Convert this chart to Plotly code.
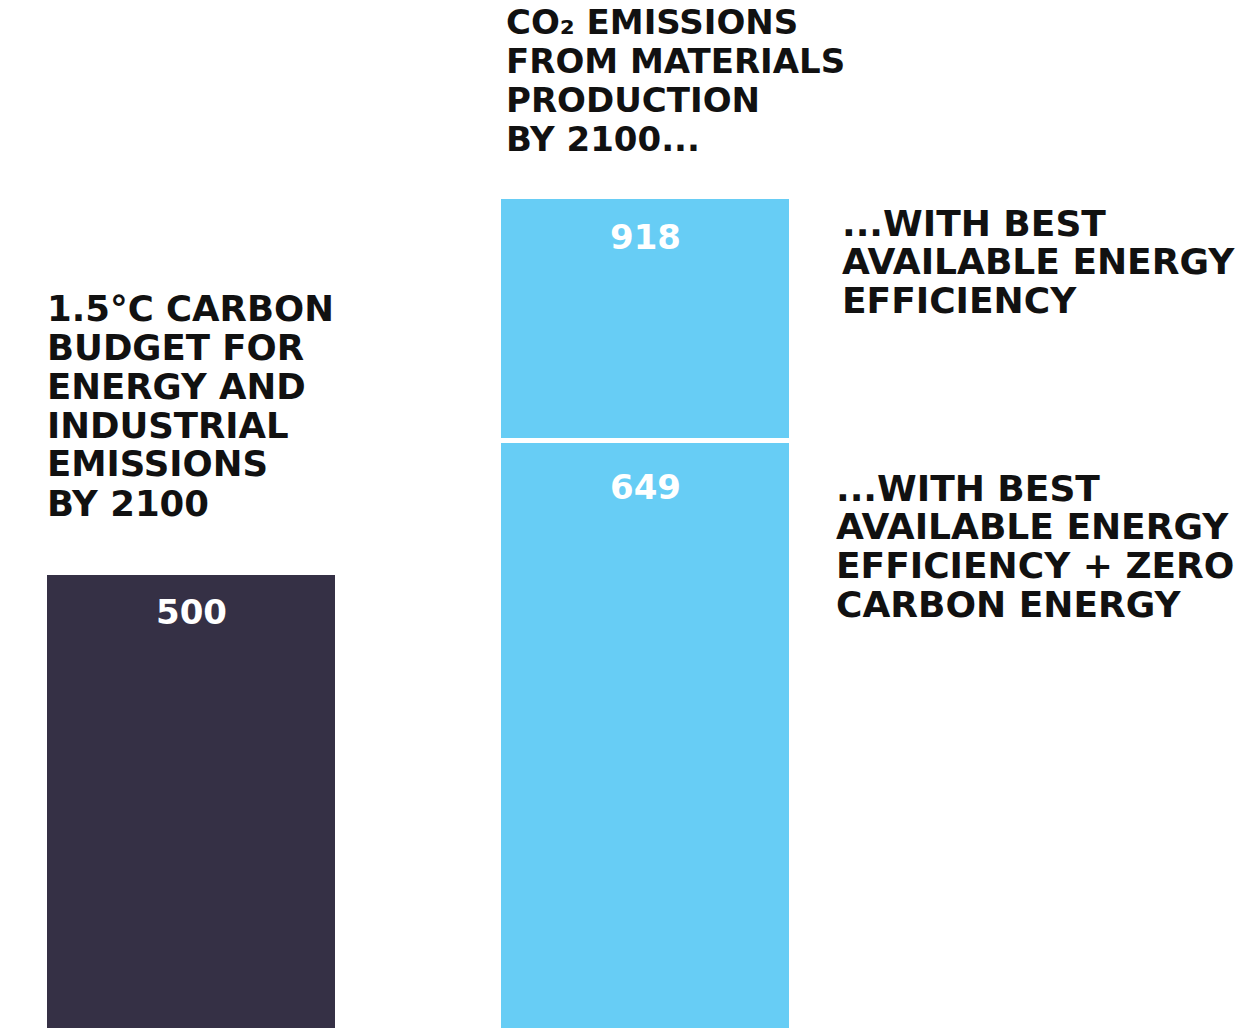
import plotly.graph_objects as go

# ---- data ----
categories = ["1.5°C budget", "Materials production"]
budget_values = [500]                  # 1.5°C carbon budget
bat_zero_carbon = [649]                # best available efficiency + zero carbon energy
bat_only = [918]                       # best available energy efficiency
label_values = [500, 649, 918]

title_lines = ["CO₂ EMISSIONS", "FROM MATERIALS", "PRODUCTION", "BY 2100..."]
left_lines = ["1.5°C CARBON", "BUDGET FOR", "ENERGY AND", "INDUSTRIAL", "EMISSIONS", "BY 2100"]
upper_lines = ["...WITH BEST", "AVAILABLE ENERGY", "EFFICIENCY"]
lower_lines = ["...WITH BEST", "AVAILABLE ENERGY", "EFFICIENCY + ZERO", "CARBON ENERGY"]

DARK = "#353045"
BLUE = "#67CDF5"
W, H = 1243, 1028
FONT = "DejaVu Sans"
SCALE = 0.9055  # px per unit

upper_segment = [t - b for t, b in zip(bat_only, bat_zero_carbon)]

fig = go.Figure()
fig.add_trace(go.Bar(x=[categories[0]], y=budget_values, marker_color=DARK,
                     marker_line_width=0, width=288 / 454, hoverinfo="skip"))
fig.add_trace(go.Bar(x=[categories[1]], y=bat_zero_carbon, marker_color=BLUE,
                     marker_line_width=0, width=288 / 454, hoverinfo="skip"))
fig.add_trace(go.Bar(x=[categories[1]], y=upper_segment, base=bat_zero_carbon, marker_color=BLUE,
                     marker_line=dict(color="white", width=5), width=293 / 454, hoverinfo="skip"))

annotations = []
value_pos = [(categories[0], label_values[0], -37),
             (categories[1], label_values[1], -47),
             (categories[1], label_values[2], -40)]
for cat, v, shift in value_pos:
    annotations.append(dict(x=cat, y=v, xref="x", yref="y", text=f"<b>{v}</b>",
                            showarrow=False, yanchor="middle", yshift=shift,
                            font=dict(family=FONT, size=34, color="white")))

def add_lines(lines, x_px, y0_px, step, size):
    for i, t in enumerate(lines):
        annotations.append(dict(x=x_px / W, y=1 - (y0_px + i * step) / H, xref="paper", yref="paper",
                                text=f"<b>{t}</b>", showarrow=False, xanchor="left", yanchor="middle",
                                font=dict(family=FONT, size=size, color="#111111")))

add_lines(title_lines, 504, 22, 39, 34)
add_lines(left_lines, 45, 308, 39, 35.5)
add_lines(upper_lines, 840, 223, 38.5, 36)
add_lines(lower_lines, 834, 488, 38.7, 36)

fig.update_layout(
    width=W, height=H, barmode="stack", showlegend=False,
    margin=dict(l=0, r=0, t=0, b=0),
    paper_bgcolor="white", plot_bgcolor="white",
    xaxis=dict(visible=False, range=[-191 / 454, (W - 191) / 454]),
    yaxis=dict(visible=False, range=[0, H / SCALE]),
    annotations=annotations,
)

fig.write_html("out.html", config={"displayModeBar": False, "staticPlot": True},
               post_script="document.body.style.margin='0';document.body.style.overflow='hidden';")
